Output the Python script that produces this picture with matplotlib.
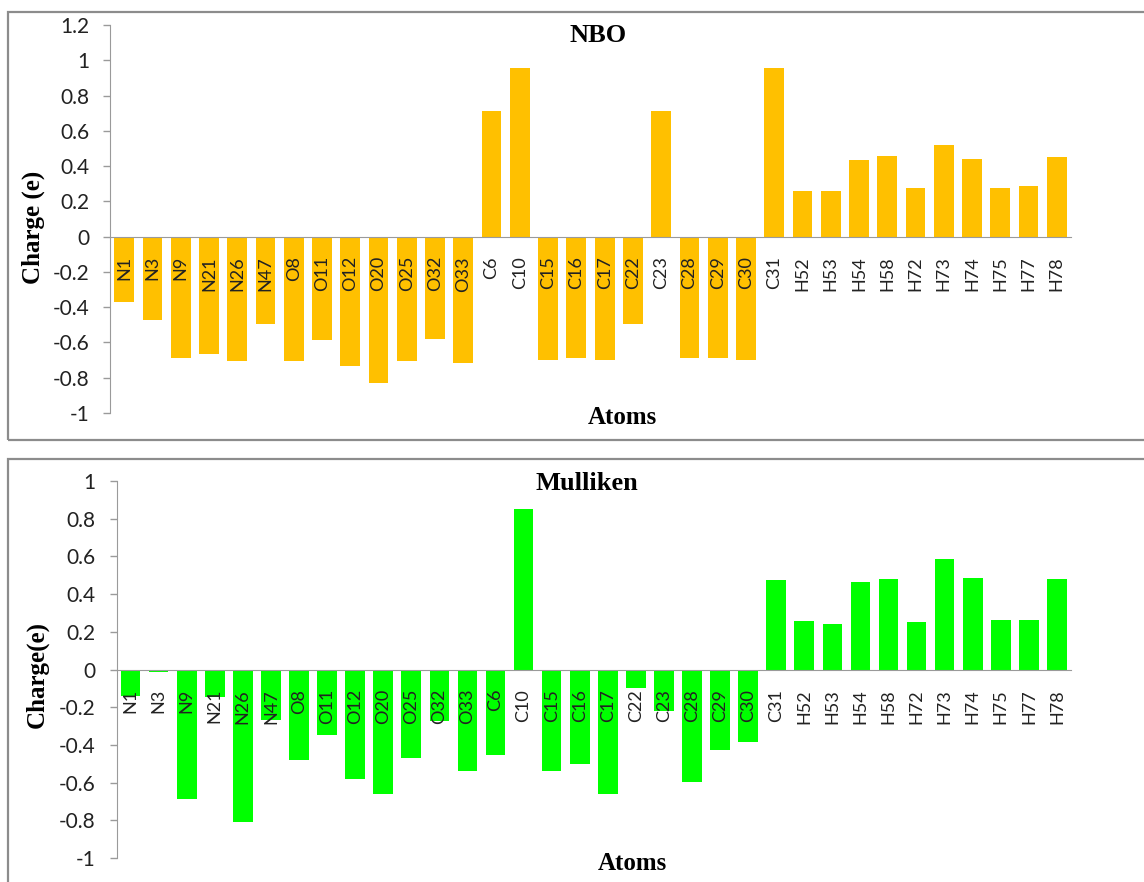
import matplotlib
matplotlib.use('Agg')
import matplotlib.pyplot as plt
from matplotlib.patches import Rectangle
import numpy as np

# atom labels shared by both panels
atoms = ['N1', 'N3', 'N9', 'N21', 'N26', 'N47', 'O8', 'O11', 'O12', 'O20', 'O25',
         'O32', 'O33', 'C6', 'C10', 'C15', 'C16', 'C17', 'C22', 'C23', 'C28', 'C29',
         'C30', 'C31', 'H52', 'H53', 'H54', 'H58', 'H72', 'H73', 'H74', 'H75', 'H77', 'H78']

nbo_charge = [-0.373, -0.472, -0.689, -0.665, -0.706, -0.494, -0.706, -0.585, -0.731,
              -0.828, -0.706, -0.580, -0.718, 0.714, 0.958, -0.697, -0.689, -0.701,
              -0.494, 0.714, -0.689, -0.689, -0.701, 0.958, 0.256, 0.256, 0.434,
              0.456, 0.275, 0.519, 0.443, 0.275, 0.288, 0.451]

mulliken_charge = [-0.140, -0.011, -0.685, -0.145, -0.811, -0.268, -0.478, -0.347, -0.581,
                   -0.658, -0.467, -0.271, -0.538, -0.455, 0.853, -0.538, -0.499, -0.658,
                   -0.096, -0.221, -0.595, -0.428, -0.384, 0.476, 0.258, 0.241, 0.465,
                   0.481, 0.253, 0.586, 0.488, 0.265, 0.265, 0.481]

nbo_ticks = [1.2, 1, 0.8, 0.6, 0.4, 0.2, 0, -0.2, -0.4, -0.6, -0.8, -1]
mulliken_ticks = [1, 0.8, 0.6, 0.4, 0.2, 0, -0.2, -0.4, -0.6, -0.8, -1]

W, H = 1144, 882
AXIS_GREY = '#9a9a9a'
TICK_FONT = ['Lato', 'DejaVu Sans']
SERIF = ['Liberation Serif', 'DejaVu Serif']


def px(x, y):
    # pixel position (from top-left) -> figure fraction
    return x / W, 1 - y / H


def draw_panel(fig, rect, values, color, ticks, ylim, title, ylabel, title_xy, atoms_xy, ylab_xy):
    ax = fig.add_axes(rect)
    ax.set_axisbelow(False)
    x = np.arange(len(atoms))
    ax.bar(x, values, width=0.70, color=color)
    ax.set_xlim(-0.5, len(atoms) - 0.5)
    ax.set_ylim(*ylim)

    for s in ['top', 'right']:
        ax.spines[s].set_visible(False)
    ax.spines['bottom'].set_position(('data', 0))
    ax.spines['bottom'].set_color(AXIS_GREY)
    ax.spines['left'].set_color(AXIS_GREY)

    ax.set_xticks(x)
    ax.set_xticklabels(atoms, rotation=90, fontsize=13, family=TICK_FONT, color='#222222')
    ax.tick_params(axis='x', length=0, pad=14)
    ax.set_yticks(ticks)
    ax.set_yticklabels([f'{t:g}' for t in ticks], fontsize=15, family=TICK_FONT, color='#222222')
    ax.tick_params(axis='y', length=5, width=1, color=AXIS_GREY, pad=10)

    fig.text(*px(*title_xy), title, ha='center', va='center', fontsize=19,
             fontweight='bold', family=SERIF)
    fig.text(*px(*atoms_xy), 'Atoms', ha='center', va='center', fontsize=18,
             fontweight='bold', family=SERIF)
    fig.text(*px(*ylab_xy), ylabel, ha='center', va='center', rotation=90, fontsize=18,
             fontweight='bold', family=SERIF)
    return ax


fig = plt.figure(figsize=(W / 100, H / 100), dpi=100)

# chart frames
for (x0, y0, x1, y1) in [(8, 12, 1160, 440), (8, 459, 1160, 900)]:
    l, b = px(x0, y1)
    fig.patches.append(Rectangle((l, b), (x1 - x0) / W, (y1 - y0) / H, transform=fig.transFigure,
                                 fill=False, edgecolor='#8c8c8c', linewidth=1.6))

l, t = px(110, 25)
_, b = px(110, 413)
draw_panel(fig, [l, b, (1071 - 110) / W, t - b], nbo_charge, '#FFC000', nbo_ticks, (-1, 1.2),
           'NBO', 'Charge (e)', (598, 35), (622, 417), (33, 227))

l, t = px(116.5, 481)
_, b = px(116.5, 858)
draw_panel(fig, [l, b, (1071 - 116.5) / W, t - b], mulliken_charge, '#00FF00', mulliken_ticks, (-1, 1),
           'Mulliken', 'Charge(e)', (587, 484), (632, 863), (37, 675))

fig.savefig('out.png', dpi=100)
